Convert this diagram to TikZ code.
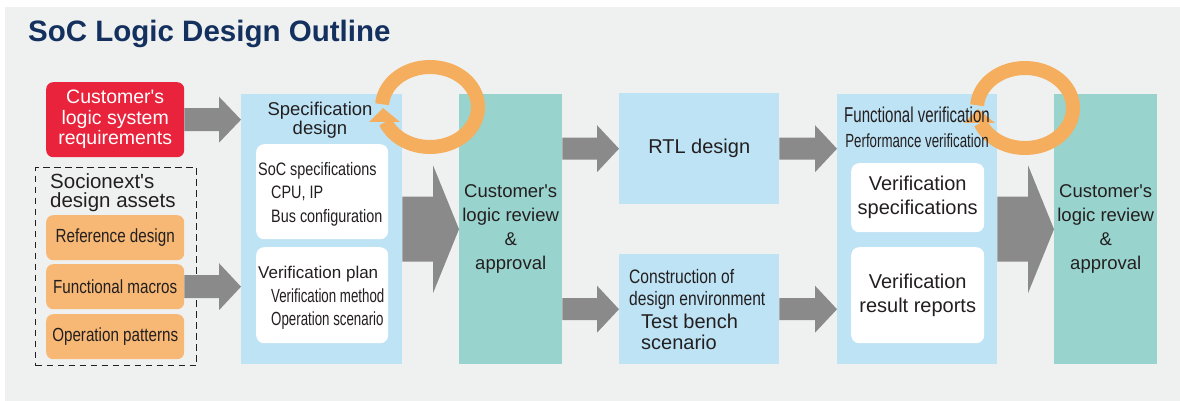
\documentclass[tikz,border=0pt]{standalone}
\usepackage{fontspec}
\setmainfont{Liberation Sans}[Ligatures=TeXOff]
\newfontfamily\narrowfont{Liberation Sans}[FakeStretch=0.8,Ligatures=TeXOff]
\newfontfamily\condfont{Liberation Sans}[FakeStretch=0.7,Ligatures=TeXOff]
\usetikzlibrary{calc,positioning}
\definecolor{bggray}{HTML}{EFF1F0}
\definecolor{navy}{HTML}{13305E}
\definecolor{ink}{HTML}{231F20}
\definecolor{reqred}{HTML}{E8233B}
\definecolor{assetorange}{HTML}{F6B874}
\definecolor{ringorange}{HTML}{F5AE5E}
\definecolor{specblue}{HTML}{BEE3F5}
\definecolor{reviewteal}{HTML}{99D3CD}
\definecolor{arrowgray}{HTML}{8A8A8A}
% block arrow: start, end, shaft half width, head half width, head length
\newcommand\blockarrow[5]{%
  \fill[arrowgray]let\p1=#1,\p2=#2 in(\x1,\y1+#3)--(\x2-#5,\y1+#3)--(\x2-#5,\y1+#4)--(\x2,\y1)--(\x2-#5,\y1-#4)--(\x2-#5,\y1-#3)--(\x1,\y1-#3)--cycle;}
% review loop round a centre coordinate
\newcommand\loopring[1]{%
  \draw[ringorange,line width=14pt]($(#1)+(184:48 and 40)$)arc[start angle=184,end angle=518,x radius=48,y radius=40];
  \fill[ringorange]($(#1)+(-61,15)$)--($(#1)+(-47,1)$)--($(#1)+(-30,15)$)--cycle;}

\begin{document}
\begin{tikzpicture}[x=1pt,y=-1pt,
    every node/.style={inner sep=0pt,text=ink},
    boxsize/.style 2 args={anchor=north west,minimum width=#1pt,minimum height=#2pt},
    reqbox/.style={fill=reqred,rounded corners=7pt,text=white,align=center,font=\fontsize{19.5}{20.5}\selectfont},
    assetbox/.style={fill=assetorange,rounded corners=7pt,font=\narrowfont\fontsize{19}{20}\selectfont},
    panel/.style={fill=specblue},
    whitebox/.style={fill=white,rounded corners=8pt},
    reviewbox/.style={fill=reviewteal,align=center,font=\fontsize{18.5}{24}\selectfont}]
  \useasboundingbox(0,0)rectangle(1180,401);
  \fill[white](0,0)rectangle(1180,401);
  \fill[bggray](5,7)rectangle(1180,401);
  \node[anchor=base west,text=navy,font=\bfseries\fontsize{29.5}{30}\selectfont](title)at(28,42){SoC Logic Design Outline};
  % inputs
  \node[reqbox,boxsize={138}{75}](req)at(46,82){Customer's\\logic system\\requirements};
  \node[draw=ink,dash pattern=on 6.5pt off 4.5pt,line width=1.2pt,boxsize={161}{198}](assets)at(35,167){};
  \foreach \n/\y/\t in{assetsa/188/Socionext's,assetsb/207.5/design assets}{
    \node[anchor=base west,font=\fontsize{20.5}{20}\selectfont](\n)at(50,\y){\t};
  }
  \foreach \n/\y/\t in{refdesign/215/Reference design,funcmacros/264/Functional macros,oppatterns/314/Operation patterns}{
    \node[assetbox,boxsize={138}{45}](\n)at(46,\y){\t};
  }
  % specification design
  \node[panel,boxsize={161}{270}](spec)at(241,94){};
  \node[whitebox,boxsize={132}{95}](socspec)at(256,144){};
  \node[whitebox,boxsize={132}{96}](vplan)at(256,247){};
  \foreach \n/\x/\y/\t in{socspeca/258/175/SoC specifications,socspecb/271/198.5/{CPU, IP},socspecc/271/222/Bus configuration}{
    \node[anchor=base west,font=\narrowfont\fontsize{18}{20}\selectfont](\n)at(\x,\y){\t};
  }
  \node[anchor=base west,font=\fontsize{17}{20}\selectfont](vplana)at(258,278){Verification plan};
  \foreach \n/\y/\t in{vplanb/302/Verification method,vplanc/325.5/Operation scenario}{
    \node[anchor=base west,font=\condfont\fontsize{19}{20}\selectfont](\n)at(271,\y){\t};
  }
  % review, design, environment
  \node[reviewbox,boxsize={103}{270}](reviewa)at(459,94){Customer's\\logic review\\\&\\approval};
  \node[panel,boxsize={160}{111},font=\fontsize{20}{24}\selectfont](rtl)at(619,93){RTL design};
  \node[panel,boxsize={160}{110}](env)at(619,254){};
  \node[anchor=base west,font=\narrowfont\fontsize{19.5}{22}\selectfont](enva)at(629,283){Construction of};
  \node[anchor=base west,font=\narrowfont\fontsize{19.5}{22}\selectfont](envb)at(629,305){design environment};
  \node[anchor=base west,font=\fontsize{20}{21}\selectfont](envc)at(641,328){Test bench};
  \node[anchor=base west,font=\fontsize{20}{21}\selectfont](envd)at(641,349){scenario};
  % verification
  \node[panel,boxsize={160}{270}](verify)at(837,94){};
  \node[whitebox,boxsize={133}{69},align=center,font=\fontsize{20}{24}\selectfont](vspec)at(851,163){Verification\\specifications};
  \node[whitebox,boxsize={133}{96},align=center,font=\fontsize{20}{24.5}\selectfont](vreport)at(851,247){Verification\\result reports};
  \node[reviewbox,boxsize={103}{270}](reviewb)at(1054,94){Customer's\\logic review\\\&\\approval};
  % arrows
  \blockarrow{(req.east)}{(spec.west|-req.east)}{11.5pt}{23pt}{22pt}
  \blockarrow{(funcmacros.east)}{(spec.west|-funcmacros.east)}{11.5pt}{23.5pt}{22pt}
  \blockarrow{(spec.east)}{(reviewa.west)}{32.5pt}{64pt}{26pt}
  \blockarrow{(reviewa.east|-rtl.west)}{(rtl.west)}{11pt}{23.5pt}{22pt}
  \blockarrow{(reviewa.east|-env.west)}{(env.west)}{11pt}{23.5pt}{22pt}
  \blockarrow{(rtl.east)}{(verify.west|-rtl.east)}{11pt}{23.5pt}{22pt}
  \blockarrow{(env.east)}{(verify.west|-env.east)}{11pt}{23.5pt}{22pt}
  \blockarrow{(verify.east)}{(reviewb.west)}{32.5pt}{64pt}{26pt}
  % loops
  \coordinate(loopa)at(430,107);\coordinate(loopb)at(1025,108);
  \loopring{loopa}\loopring{loopb}
  \node[anchor=base,font=\fontsize{18.5}{19}\selectfont](speca)at(320,116){Specification};
  \node[anchor=base,font=\fontsize{18.5}{19}\selectfont](specb)at(320,135){design};
  \node[anchor=base,font=\condfont\fontsize{21.5}{22}\selectfont](verifya)at(917,123){Functional verification};
  \node[anchor=base,font=\condfont\fontsize{19}{22}\selectfont](verifyb)at(917,147){Performance verification};
\end{tikzpicture}
\end{document}
